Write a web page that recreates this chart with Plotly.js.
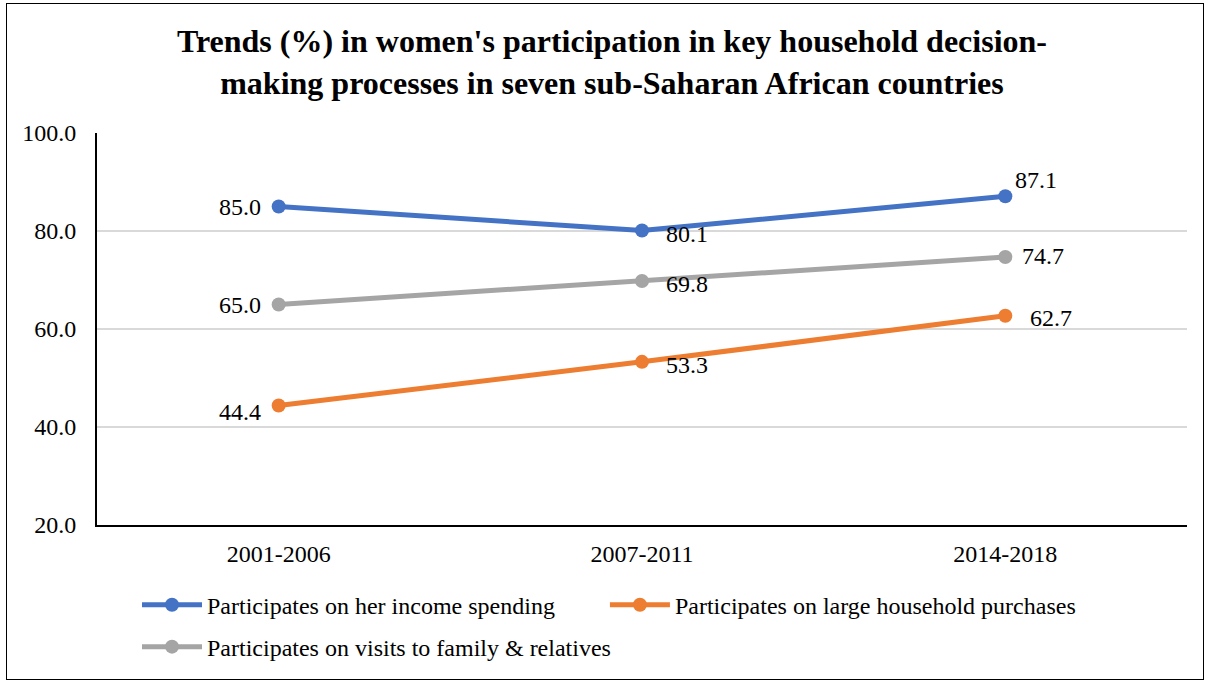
<!DOCTYPE html>
<html><head><meta charset="utf-8">
<script src="https://cdn.plot.ly/plotly-3.0.1.min.js"></script>
<style>
html,body{margin:0;padding:0;background:#fff;}
#chart{width:1207px;height:681px;}
#frame{position:absolute;left:6px;top:3px;width:1196px;height:675px;border:1.5px solid #000;pointer-events:none;}
</style></head>
<body>
<div id="chart"></div>
<div id="frame"></div>
<script>
const categories = ['2001-2006', '2007-2011', '2014-2018'];
const seriesNames = ['Participates on her income spending', 'Participates on large household purchases', 'Participates on visits to family & relatives'];
const incomeSpending = [85.0, 80.1, 87.1];
const largePurchases = [44.4, 53.3, 62.7];
const familyVisits = [65.0, 69.8, 74.7];
const yTicks = [20, 40, 60, 80, 100];

const FONT = 'Liberation Serif, Times New Roman, serif';
const colors = ['#4472C4', '#ED7D31', '#A5A5A5'];
const seriesVals = [incomeSpending, largePurchases, familyVisits];
const legendIds = ['legend', 'legend3', 'legend2'];
// label offsets [xanchor, xshift, yshift] per point
const labelOff = [
  [['right', -16, 0], ['left', 22, -3], ['left', 8, 16]],
  [['right', -16, -7], ['left', 22, -3], ['left', 23, -2]],
  [['right', -16, 0], ['left', 22, -3], ['left', 15, 1]]
];
const data = seriesVals.map((vals, i) => ({
  x: categories, y: vals, name: seriesNames[i], type: 'scatter', mode: 'lines+markers',
  line: {color: colors[i], width: 5},
  marker: {color: colors[i], size: 14},
  legend: legendIds[i],
  cliponaxis: false
}));
const annotations = [];
seriesVals.forEach((vals, i) => vals.forEach((v, j) => {
  const o = labelOff[i][j];
  annotations.push({x: categories[j], y: v, xref: 'x', yref: 'y', text: v.toFixed(1), showarrow: false,
    xanchor: o[0], yanchor: 'middle', xshift: o[1], yshift: o[2],
    font: {family: FONT, size: 24, color: '#000'}});
}));

const legendBase = {orientation: 'h', xanchor: 'left', yanchor: 'top', font: {family: FONT, size: 24, color: '#000'},
  itemwidth: 60, bgcolor: 'rgba(0,0,0,0)'};

const layout = {
  width: 1207, height: 681,
  margin: {l: 97, r: 20, t: 133, b: 154},
  paper_bgcolor: '#fff', plot_bgcolor: '#fff',
  font: {family: FONT, color: '#000', size: 24},
  title: {text: "Trends (%) in women's participation in key household decision-<br>making processes in seven sub-Saharan African countries",
    font: {family: FONT, size: 32, color: '#000', weight: 'bold'},
    x: 0.507, xref: 'container', xanchor: 'center', y: 0.923, yanchor: 'top'},
  xaxis: {type: 'category', range: [-0.5, 2.5], showgrid: false, showline: true, linecolor: '#000', linewidth: 2,
    ticks: '', tickfont: {size: 24}, ticklabelstandoff: 6, fixedrange: true},
  yaxis: {range: [20, 100], tickvals: yTicks, ticktext: yTicks.map(v => v.toFixed(1)), showgrid: true, gridcolor: '#d9d9d9', gridwidth: 2,
    showline: true, linecolor: '#000', linewidth: 2, zeroline: false, ticks: '', tickfont: {size: 24}, ticklabelstandoff: 14, fixedrange: true},
  showlegend: true,
  legend: Object.assign({}, legendBase, {x: 0.0367, y: -0.147}),
  legend3: Object.assign({}, legendBase, {x: 0.466, y: -0.147}),
  legend2: Object.assign({}, legendBase, {x: 0.0367, y: -0.254}),
  annotations: annotations
};
Plotly.newPlot('chart', data, layout, {displayModeBar: false, staticPlot: true});
</script>
</body></html>
